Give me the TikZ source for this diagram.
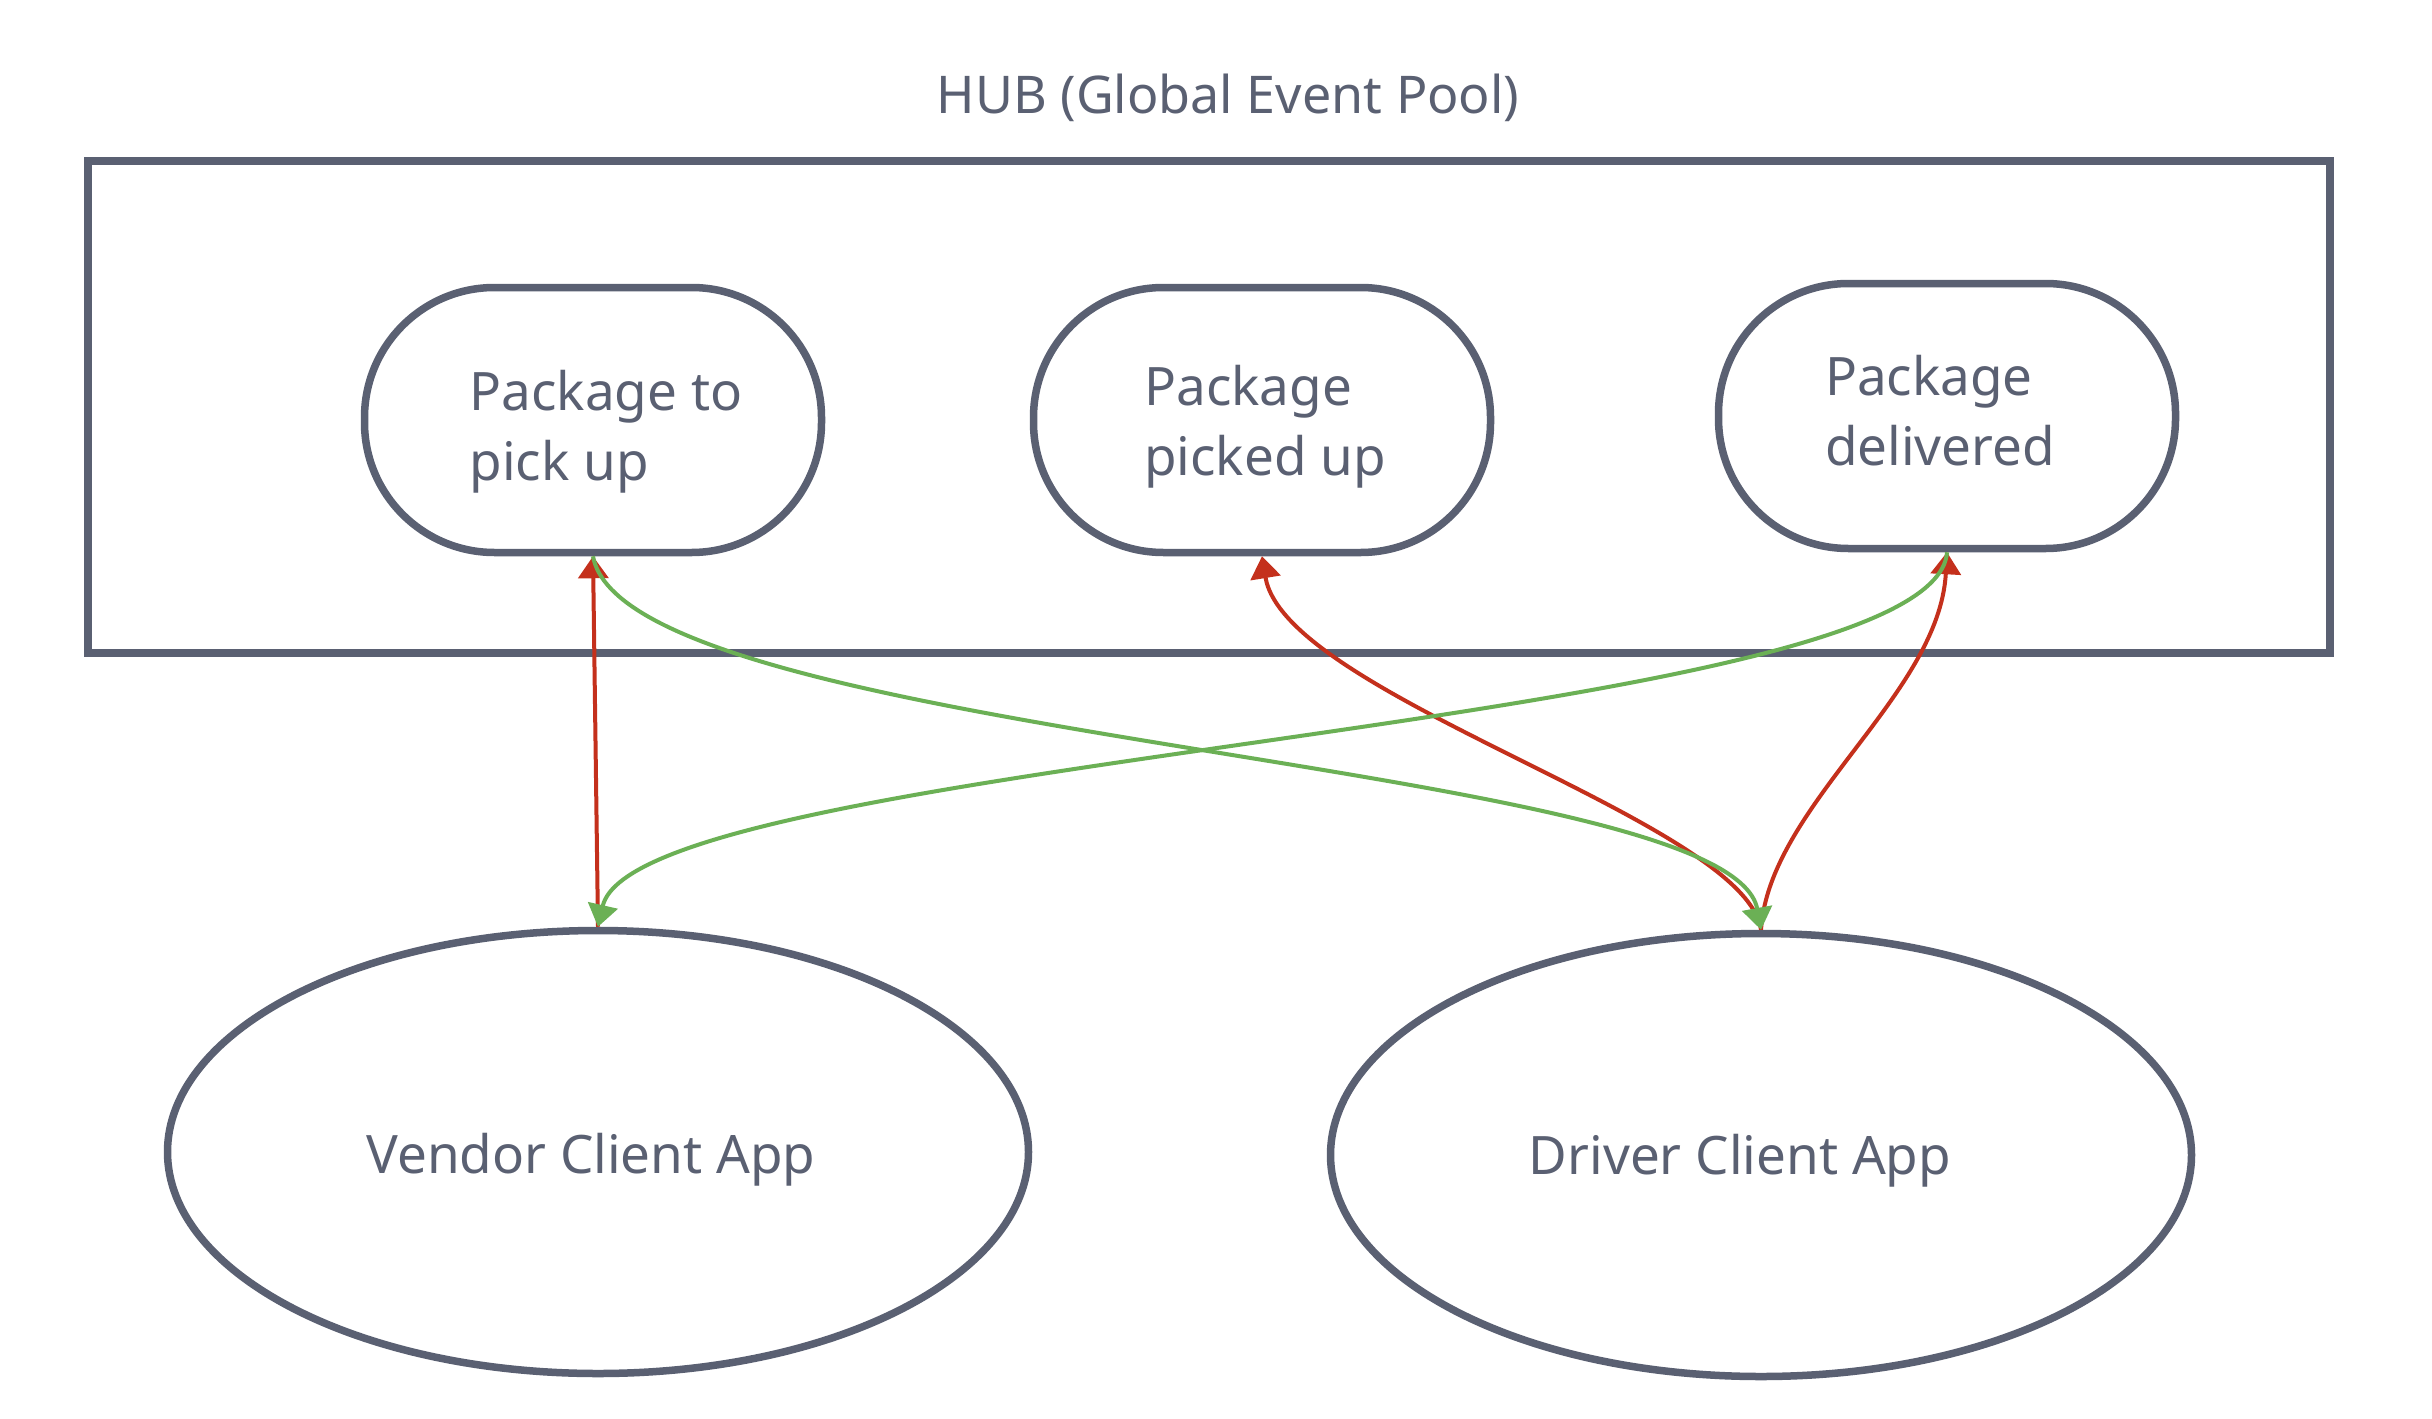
\documentclass[tikz,border=0pt]{standalone}
\usepackage{fontspec}
\setmainfont{Noto Sans}
\usetikzlibrary{shapes.geometric,arrows.meta}
\definecolor{strokegray}{HTML}{5A6072}
\definecolor{textgray}{HTML}{5A6072}
\definecolor{arrred}{HTML}{C4301C}
\definecolor{arrgreen}{HTML}{6BB055}
\tikzset{
  eventbox/.style={draw=strokegray, line width=7.5pt, rectangle, rounded corners=130pt,
    minimum width=457pt, minimum height=265pt, inner sep=0pt},
  eventtext/.style={align=left, text=textgray, font=\fontsize{53}{70}\selectfont, inner sep=0pt},
  appnode/.style={draw=strokegray, line width=7.5pt, ellipse, minimum width=861pt,
    minimum height=443pt, inner sep=0pt},
  apptext/.style={text=textgray, font=\fontsize{53}{64}\selectfont, inner sep=0pt},
  hubbox/.style={draw=strokegray, line width=8.5pt, rectangle, minimum width=2242pt,
    minimum height=492pt, inner sep=0pt},
  redarrow/.style={draw=arrred, line width=4pt, -{Triangle[length=22pt,width=30pt]}},
  greenarrow/.style={draw=arrgreen, line width=4pt, -{Triangle[length=22pt,width=30pt]}},
}
\begin{document}
\begin{tikzpicture}[x=1pt,y=-1pt]
\useasboundingbox[fill=white] (0,0) rectangle (2432,1418);
\node[text=textgray, font=\fontsize{52}{68}\selectfont, inner sep=0pt] (title) at (1228,98) {HUB (Global Event Pool)};
\node[hubbox] (hub) at (1209,407) {};
\node[eventbox] (n1) at (593,420) {};
\node[eventbox] (n2) at (1262,420) {};
\node[eventbox] (n3) at (1947,416) {};
\node[eventtext] (n1t) at (606,432) {Package to\\pick up};
\node[eventtext] (n2t) at (1265,427) {Package\\picked up};
\node[eventtext] (n3t) at (1940,411) {Package\\delivered};
\node[appnode] (vendor) at (598,1152) {};
\node[appnode] (driver) at (1761,1155) {};
\node[apptext] (vendort) at (591,1160) {Vendor Client App};
\node[apptext] (drivert) at (1740,1161) {Driver Client App};
% red arrows
\draw[redarrow] (vendor.north) -- (n1.south);
\draw[redarrow] (driver.north) .. controls +(-16,-109) and +(23,140) .. (n2.south);
\draw[redarrow] (driver.north) .. controls +(8,-124) and +(-8,143) .. (n3.south);
% green arrows
\draw[greenarrow] (n1.south) .. controls +(33,185) and +(-31,-170) .. (driver.north);
\draw[greenarrow] (n3.south) .. controls +(-12,175) and +(39,-171) .. (vendor.north);
\end{tikzpicture}
\end{document}
